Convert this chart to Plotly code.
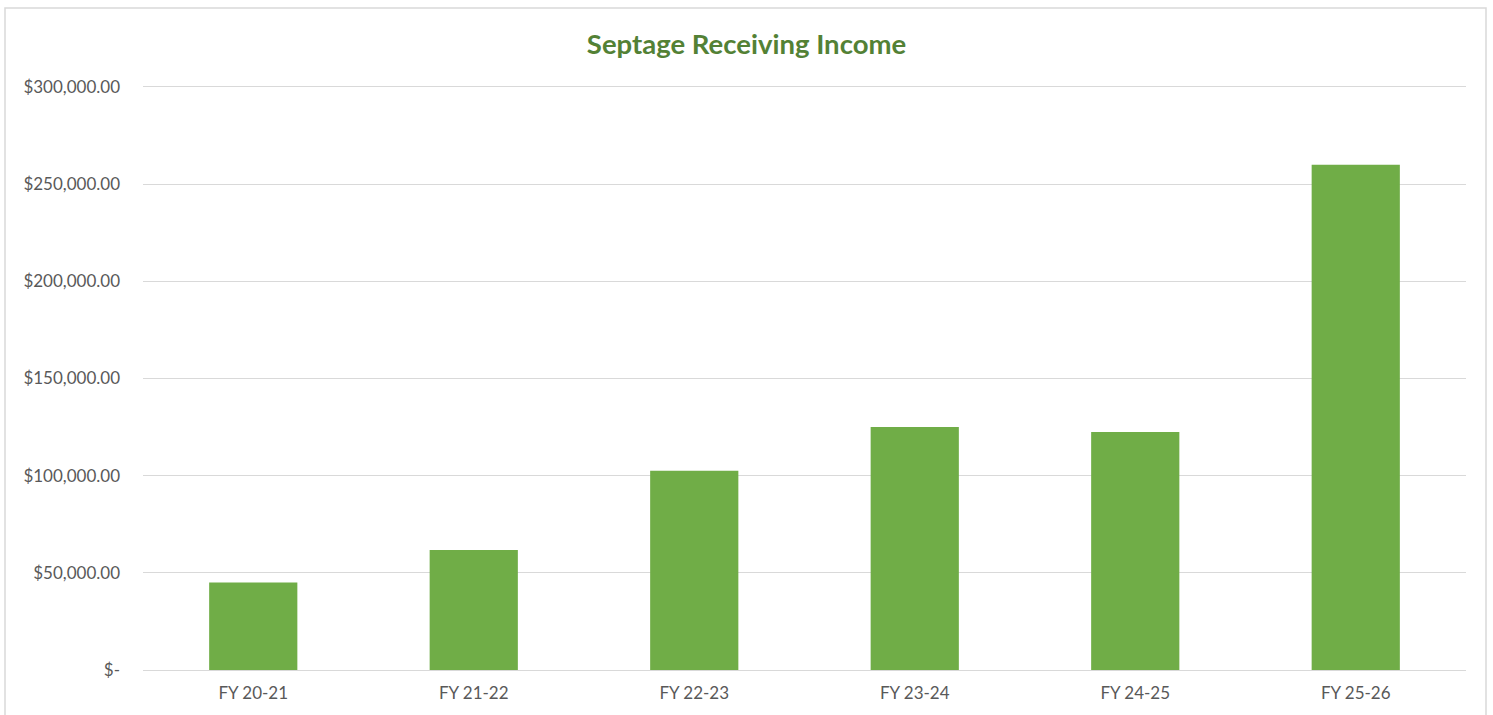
import plotly.graph_objects as go

categories = ["FY 20-21", "FY 21-22", "FY 22-23", "FY 23-24", "FY 24-25", "FY 25-26"]
income = [45000, 61800, 102500, 125000, 122400, 260000]
tick_vals = [0, 50000, 100000, 150000, 200000, 250000, 300000]
tick_text = ["$-", "$50,000.00", "$100,000.00", "$150,000.00", "$200,000.00", "$250,000.00", "$300,000.00"]

W, H = 1493, 715
ymax = 301000
ml, mr, mb = 143, 27, 45
mt = round((H - mb) - (H - mb - 87) * ymax / 300000)
pw, ph = W - ml - mr, H - mt - mb

FONT = "Lato, Open Sans, sans-serif"

fig = go.Figure(go.Bar(
    x=categories, y=income, marker_color="#70AD47", width=0.4,
    marker_line_width=0, hovertemplate="%{x}: $%{y:,.2f}<extra></extra>"))

fig.update_layout(
    width=W, height=H,
    margin=dict(l=ml, r=mr, t=mt, b=mb),
    paper_bgcolor="white", plot_bgcolor="white",
    font=dict(family=FONT, color="#595959", size=15),
    title=dict(text="<b>Septage Receiving Income</b>", x=0.5, xanchor="center",
               y=1 - 44.5 / H, yanchor="middle",
               font=dict(size=27.5, color="#538135", family=FONT)),
    showlegend=False,
    bargap=0.6,
)
fig.update_yaxes(range=[0, ymax], tickvals=tick_vals, ticktext=tick_text,
                 showgrid=True, gridcolor="#D9D9D9", gridwidth=1, zeroline=False,
                 showline=False, ticks="", ticklabelstandoff=22,
                 tickfont=dict(size=17, color="#595959", family=FONT))
fig.update_xaxes(showline=True, linecolor="#D9D9D9", linewidth=1, ticks="",
                 ticklabelstandoff=8,
                 tickfont=dict(size=17, color="#595959", family=FONT))

# chart outer border
fig.add_shape(type="rect", xref="paper", yref="paper",
              x0=(5 - ml) / pw, x1=(1486 - ml) / pw,
              y0=(H - mb - 740) / ph, y1=1 + (mt - 8) / ph,
              line=dict(color="#D9D9D9", width=1.5), fillcolor="rgba(0,0,0,0)", layer="below")

fig.write_html("out.html", config={"displayModeBar": False},
               post_script="document.body.style.margin='0';")
